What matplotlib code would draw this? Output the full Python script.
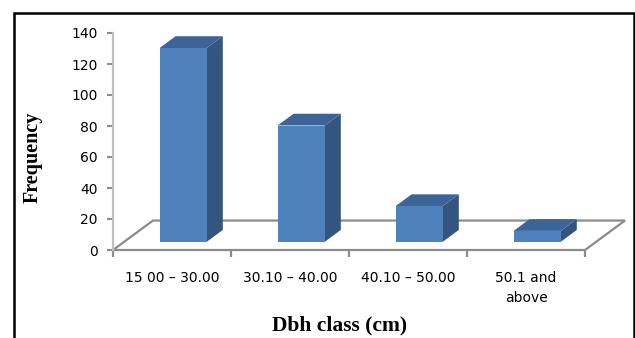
import matplotlib.pyplot as plt
from matplotlib.patches import Polygon, Rectangle

categories = ["15 00 – 30.00", "30.10 – 40.00", "40.10 – 50.00", "50.1 and\nabove"]
frequency = [125, 75, 23, 7]
y_ticks = [0, 20, 40, 60, 80, 100, 120, 140]

# oblique depth of the floor, in data units (x: categories, y: frequency)
DEPTH_X = 0.339
DEPTH_Y = 19.0
BAR_FRONT = 0.28   # bar front plane as a fraction of floor depth
BAR_BACK = 0.68
BAR_WIDTH = 0.40

FRONT = "#4f81bd"
TOP = "#3c6496"
SIDE = "#34557e"
FLOOR = "#8c8c8c"


def main():
    fig = plt.figure(figsize=(6.35, 3.38), dpi=100)
    ax = fig.add_axes([113 / 635, 88 / 338, 472 / 635, 217 / 338])
    ax.set_xlim(0, len(categories))
    ax.set_ylim(0, 140)

    # floor
    n = len(categories)
    floor = Polygon([(0, 0), (n, 0), (n + DEPTH_X, DEPTH_Y), (DEPTH_X, DEPTH_Y)],
                    closed=True, facecolor="white", edgecolor=FLOOR,
                    linewidth=1.6, clip_on=False, zorder=1)
    ax.add_patch(floor)

    # 3d-looking columns
    fx, fy = BAR_FRONT * DEPTH_X, BAR_FRONT * DEPTH_Y
    bx, by = BAR_BACK * DEPTH_X, BAR_BACK * DEPTH_Y
    for i, h in enumerate(frequency):
        x0 = i + 0.5 - BAR_WIDTH / 2 + fx
        x1 = x0 + BAR_WIDTH
        y0 = fy
        y1 = fy + h
        ddx, ddy = bx - fx, by - fy
        side = Polygon([(x1, y0), (x1 + ddx, y0 + ddy), (x1 + ddx, y1 + ddy), (x1, y1)],
                       facecolor=SIDE, edgecolor="none", clip_on=False, zorder=3)
        top = Polygon([(x0, y1), (x1, y1), (x1 + ddx, y1 + ddy), (x0 + ddx, y1 + ddy)],
                      facecolor=TOP, edgecolor="none", clip_on=False, zorder=3)
        ax.add_patch(side)
        ax.add_patch(top)
        ax.add_patch(Rectangle((x0, y0), BAR_WIDTH, h, facecolor=FRONT,
                               edgecolor="none", clip_on=False, zorder=4))

    for s in ["top", "right", "bottom"]:
        ax.spines[s].set_visible(False)
    ax.spines["left"].set_color("#bfbfbf")
    ax.spines["left"].set_linewidth(1.6)
    ax.spines["left"].set_zorder(2)

    ax.set_yticks(y_ticks)
    ax.tick_params(axis="y", direction="out", length=4, width=1.5,
                   color="#8c8c8c", pad=7, labelsize=10)

    ax.set_xticks(range(n + 1))
    ax.set_xticklabels([])
    ax.set_xticks([i + 0.5 for i in range(n)], minor=True)
    ax.set_xticklabels(categories, minor=True, fontsize=10, linespacing=1.6,
                       va="top")
    ax.tick_params(axis="x", which="major", direction="out", length=5,
                   width=1.6, color="#8c8c8c")
    ax.tick_params(axis="x", which="minor", length=0, pad=15)

    fig.text(33 / 635, 1 - 157 / 338, "Frequency", rotation=90,
             ha="center", va="center", family="Liberation Serif",
             weight="bold", fontsize=14.5)
    fig.text(340 / 635, 1 - 325 / 338, "Dbh class (cm)",
             ha="center", va="center", family="Liberation Serif",
             weight="bold", fontsize=15.5)

    # frame round the chart
    fig.patches.append(Rectangle((14 / 635, -0.05), 619.5 / 635, 1.05 - 13 / 338,
                                 transform=fig.transFigure, fill=False,
                                 edgecolor="black", linewidth=1.8))

    fig.savefig("out.png", dpi=100)


if __name__ == "__main__":
    main()
